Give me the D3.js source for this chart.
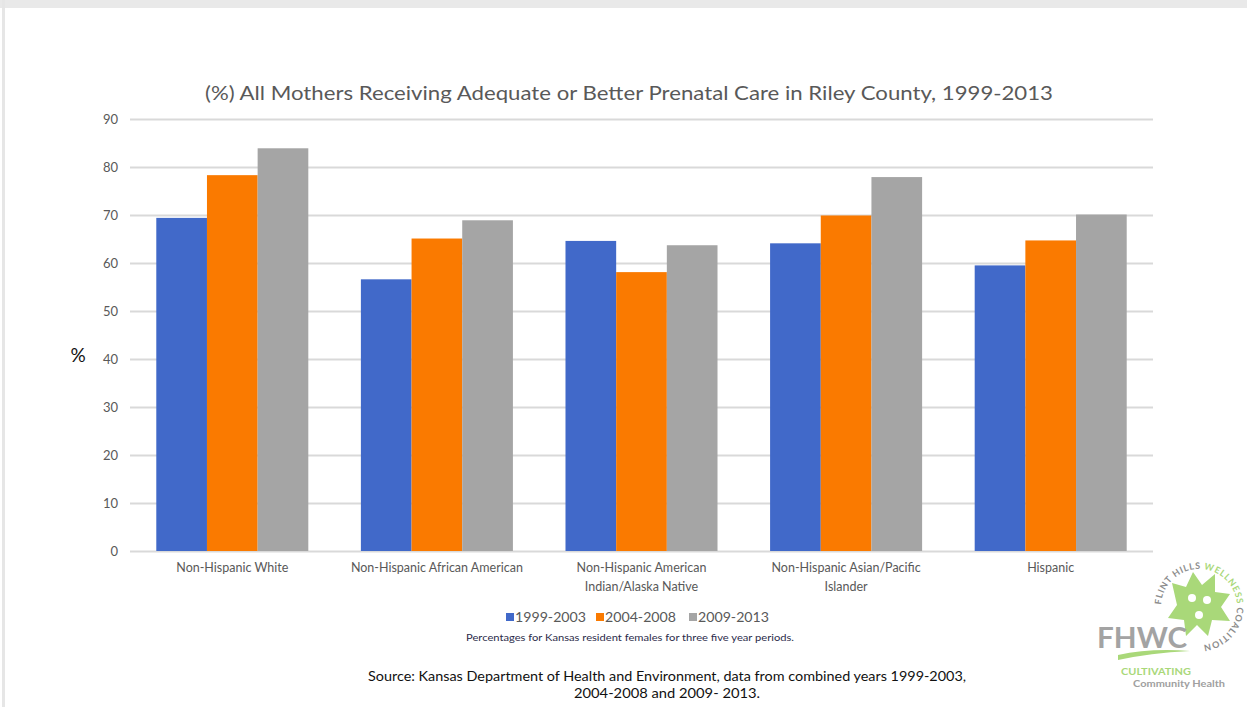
<!DOCTYPE html>
<html>
<head>
<meta charset="utf-8">
<script src="https://cdn.jsdelivr.net/npm/d3@7"></script>
<style>
  html, body { margin: 0; padding: 0; background: #fff; }
  svg { display: block; }
  text { font-family: Lato, "Open Sans", "Liberation Sans", sans-serif; }
</style>
</head>
<body>
<svg id="chart" width="1247" height="707"></svg>
<script>
// Prenatal care data, Riley County (percent of mothers)
const categories = [
  ["Non-Hispanic White"],
  ["Non-Hispanic African American"],
  ["Non-Hispanic American", "Indian/Alaska Native"],
  ["Non-Hispanic Asian/Pacific", "Islander"],
  ["Hispanic"]
];
const periods = ["1999-2003", "2004-2008", "2009-2013"];
const values1999 = [69.4, 56.6, 64.6, 64.1, 59.5];
const values2004 = [78.3, 65.1, 58.1, 69.9, 64.7];
const values2009 = [83.9, 68.9, 63.7, 77.9, 70.1];
const yTicks = [0, 10, 20, 30, 40, 50, 60, 70, 80, 90];
const colors = ["#4169C9", "#FA7A00", "#A5A5A5"];

const series = [values1999, values2004, values2009];
const catKeys = categories.map(c => c.join(" "));

const svg = d3.select("#chart");

// page frame
svg.append("rect").attr("x", 0).attr("y", 0).attr("width", 1247).attr("height", 8).attr("fill", "#e9e9e9");
svg.append("rect").attr("x", 2).attr("y", 0).attr("width", 3).attr("height", 707).attr("fill", "#e6e6e6");

const plot = { left: 130, right: 1153, top: 119, bottom: 551 };

const x0 = d3.scaleBand().domain(catKeys).range([plot.left, plot.right])
  .paddingInner(0.257).paddingOuter(0.1285);
const x1 = d3.scaleBand().domain(periods).range([0, x0.bandwidth()]);
const y = d3.scaleLinear().domain([0, 90]).range([plot.bottom, plot.top]);

// gridlines + y labels
const yAxis = d3.axisLeft(y).tickValues(yTicks).tickSize(-(plot.right - plot.left)).tickPadding(12);
const gy = svg.append("g").attr("transform", `translate(${plot.left},0)`).call(yAxis);
gy.select(".domain").remove();
gy.selectAll(".tick line").attr("stroke", "#d9d9d9").attr("stroke-width", 2);
gy.selectAll(".tick text").attr("fill", "#595959").attr("font-size", 13)
  .style("font-family", "Lato, 'Open Sans', sans-serif");

// bars
const groups = svg.append("g").selectAll("g").data(catKeys).join("g")
  .attr("transform", d => `translate(${x0(d)},0)`);
groups.selectAll("rect")
  .data((d, i) => periods.map((p, j) => ({ p, v: series[j][i], c: colors[j] })))
  .join("rect")
  .attr("x", d => x1(d.p))
  .attr("width", x1.bandwidth())
  .attr("y", d => y(d.v))
  .attr("height", d => y(0) - y(d.v))
  .attr("fill", d => d.c);

// x labels
const xl = svg.append("g");
categories.forEach((lines, i) => {
  const cx = x0(catKeys[i]) + x0.bandwidth() / 2;
  const t = xl.append("text").attr("text-anchor", "middle").attr("fill", "#595959").attr("font-size", 12.5);
  lines.forEach((ln, k) => {
    t.append("tspan").attr("x", cx).attr("y", 572 + k * 19).text(ln);
  });
});

// title
svg.append("text").attr("x", 629).attr("y", 100).attr("text-anchor", "middle")
  .attr("fill", "#595959").attr("font-size", 20)
  .attr("textLength", 848).attr("lengthAdjust", "spacingAndGlyphs")
  .text("(%) All Mothers Receiving Adequate or Better Prenatal Care in Riley County, 1999-2013");

// y axis title
svg.append("text").attr("x", 78).attr("y", 362).attr("text-anchor", "middle")
  .attr("fill", "#111").attr("font-size", 19).text("%");

// legend
const legendX = [506, 596, 689];
periods.forEach((p, i) => {
  svg.append("rect").attr("x", legendX[i]).attr("y", 613).attr("width", 8).attr("height", 8).attr("fill", colors[i]);
  svg.append("text").attr("x", legendX[i] + 9).attr("y", 622).attr("fill", "#595959").attr("font-size", 13)
    .attr("textLength", 71).attr("lengthAdjust", "spacingAndGlyphs").text(p);
});

// note
svg.append("text").attr("x", 630).attr("y", 641).attr("text-anchor", "middle")
  .attr("fill", "#2b2b4a").attr("font-size", 10)
  .attr("textLength", 328).attr("lengthAdjust", "spacingAndGlyphs")
  .text("Percentages for Kansas resident females for three five year periods.");

// source
svg.append("text").attr("x", 667).attr("y", 681).attr("text-anchor", "middle")
  .attr("fill", "#111").attr("font-size", 13)
  .attr("textLength", 598).attr("lengthAdjust", "spacingAndGlyphs")
  .text("Source: Kansas Department of Health and Environment, data from combined years 1999-2003,");
svg.append("text").attr("x", 667).attr("y", 698).attr("text-anchor", "middle")
  .attr("fill", "#111").attr("font-size", 13)
  .attr("textLength", 186).attr("lengthAdjust", "spacingAndGlyphs")
  .text("2004-2008 and 2009- 2013.");

// coalition logo
const green = "#a9d879";
const logo = svg.append("g").attr("transform", "translate(1199,607)");
const defs = svg.append("defs");
const ringPath = d3.path();
ringPath.arc(0, 0, 38, Math.PI * 1.02, Math.PI * 2.5, false);
defs.append("path").attr("id", "logoArc").attr("d", ringPath.toString());
// leaf shape
logo.append("path")
  .attr("d", "M-27,-24 L-13,-20 L-6,-35 L3,-22 L16,-33 L16,-15 L31,-13 L22,0 L31,14 L13,13 L9,29 L-2,18 L-13,29 L-15,13 L-31,11 L-22,-2 Z")
  .attr("fill", green);
logo.append("circle").attr("cx", -7).attr("cy", -9).attr("r", 4).attr("fill", "#fff");
logo.append("circle").attr("cx", 8).attr("cy", -7).attr("r", 4).attr("fill", "#fff");
logo.append("circle").attr("cx", 0).attr("cy", 8).attr("r", 4).attr("fill", "#fff");
logo.append("text").attr("font-size", 9).attr("font-weight", "bold")
  .append("textPath").attr("href", "#logoArc")
  .attr("textLength", 172).attr("lengthAdjust", "spacing")
  .selectAll("tspan").data([["FLINT HILLS ", "#8c8c8c"], ["WELLNESS ", green], ["COALITION", "#8c8c8c"]])
  .join("tspan").attr("fill", d => d[1]).text(d => d[0]);
svg.append("text").attr("x", 1097).attr("y", 648).attr("font-size", 28).attr("font-weight", "bold")
  .attr("fill", "#a3a3a3").attr("textLength", 90).attr("lengthAdjust", "spacingAndGlyphs").text("FHWC");
svg.append("path").attr("d", "M1118,655 Q1150,648 1190,651 Q1150,653 1118,660 Z").attr("fill", green);
svg.append("text").attr("x", 1121).attr("y", 675).attr("font-size", 9).attr("font-weight", "bold")
  .attr("fill", green).attr("textLength", 70).attr("lengthAdjust", "spacingAndGlyphs").text("CULTIVATING");
svg.append("text").attr("x", 1133).attr("y", 687).attr("font-size", 8.5).attr("font-weight", "bold")
  .attr("fill", "#a0a0a0").attr("textLength", 92).attr("lengthAdjust", "spacingAndGlyphs").text("Community Health");
</script>
</body>
</html>
